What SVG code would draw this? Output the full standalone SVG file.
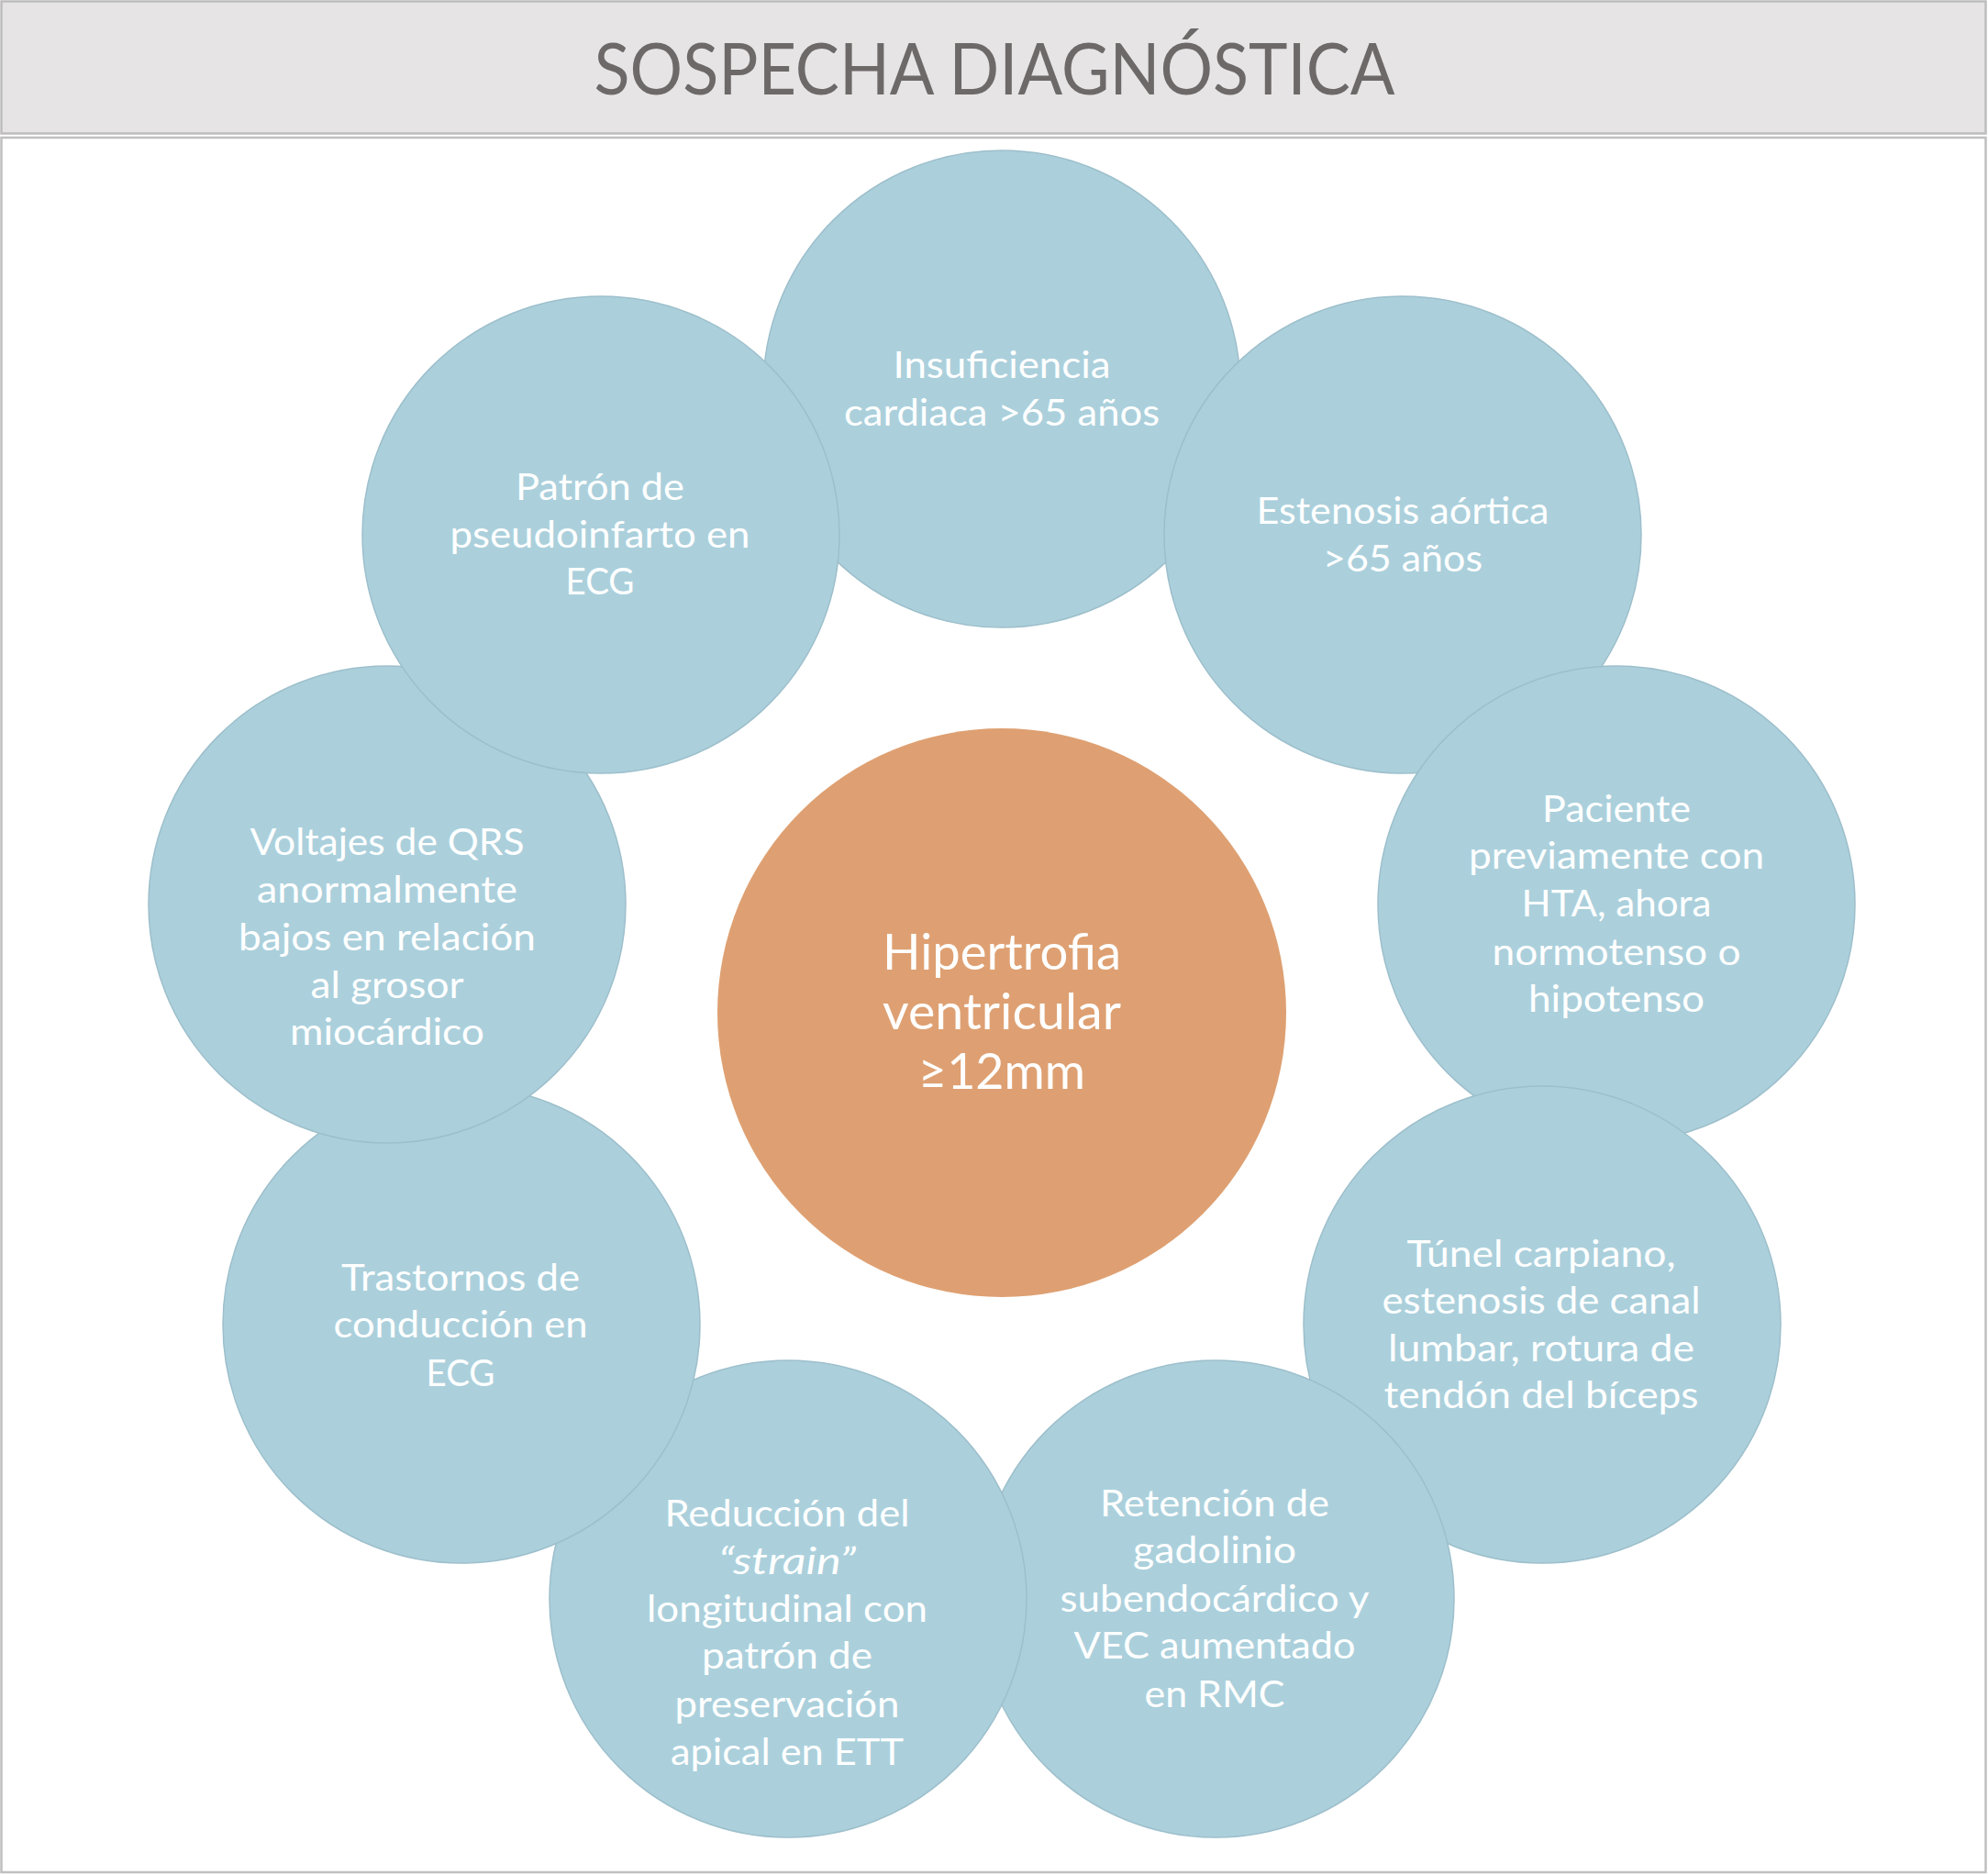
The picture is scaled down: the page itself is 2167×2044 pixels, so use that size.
<svg xmlns="http://www.w3.org/2000/svg" width="2167" height="2044" viewBox="0 0 2167 2044">
<style>
.frame{fill:#FFFFFF;stroke:#BFBFBF;stroke-width:2.5}
.head{fill:#E6E4E5;stroke:#BDBDBD;stroke-width:2.5}
.sat{fill:#ABD0DC;stroke:#9DBFCB;stroke-width:1.5}
.core{fill:#DEA072}
.lbl{font-family:Lato,"Open Sans",sans-serif;font-size:40px;fill:#FFFFFF;text-anchor:middle}
.big{font-size:54px}
.ttl{font-family:Lato,"Open Sans",sans-serif;font-size:77px;fill:#6D6969;text-anchor:middle}
</style>
<rect width="2167" height="2044" fill="#FFFFFF"/>
<g id="header">
<rect class="head" x="1.5" y="1.5" width="2163" height="144"/>
<text class="ttl" x="1084" y="103" textLength="873" lengthAdjust="spacingAndGlyphs">SOSPECHA DIAGNÓSTICA</text>
</g>
<rect class="frame" x="1.5" y="150" width="2163" height="1891"/>
<g id="connectors"/>
<g id="n0">
<circle class="sat" cx="1092" cy="424" r="260"/>
<text class="lbl" x="1092" y="412" textLength="237" lengthAdjust="spacingAndGlyphs">Insuficiencia</text>
<text class="lbl" x="1092" y="464" textLength="344" lengthAdjust="spacingAndGlyphs">cardiaca &gt;65 años</text>
</g>
<g id="n1">
<circle class="sat" cx="1529" cy="583" r="260"/>
<text class="lbl" x="1529" y="571" textLength="319" lengthAdjust="spacingAndGlyphs">Estenosis aórtica</text>
<text class="lbl" x="1529" y="623" textLength="174" lengthAdjust="spacingAndGlyphs">&gt;65 años</text>
</g>
<g id="n2">
<circle class="sat" cx="1762" cy="986" r="260"/>
<text class="lbl" x="1762" y="896" textLength="162" lengthAdjust="spacingAndGlyphs">Paciente</text>
<text class="lbl" x="1762" y="947" textLength="322" lengthAdjust="spacingAndGlyphs">previamente con</text>
<text class="lbl" x="1762" y="999" textLength="207" lengthAdjust="spacingAndGlyphs">HTA, ahora</text>
<text class="lbl" x="1762" y="1052" textLength="271" lengthAdjust="spacingAndGlyphs">normotenso o</text>
<text class="lbl" x="1762" y="1103" textLength="192" lengthAdjust="spacingAndGlyphs">hipotenso</text>
</g>
<g id="n3">
<circle class="sat" cx="1681" cy="1444" r="260"/>
<text class="lbl" x="1680" y="1381" textLength="293" lengthAdjust="spacingAndGlyphs">Túnel carpiano,</text>
<text class="lbl" x="1680" y="1432" textLength="347" lengthAdjust="spacingAndGlyphs">estenosis de canal</text>
<text class="lbl" x="1680" y="1484" textLength="334" lengthAdjust="spacingAndGlyphs">lumbar, rotura de</text>
<text class="lbl" x="1680" y="1535" textLength="343" lengthAdjust="spacingAndGlyphs">tendón del bíceps</text>
</g>
<g id="n4">
<circle class="sat" cx="1325" cy="1743" r="260"/>
<text class="lbl" x="1324" y="1653" textLength="250" lengthAdjust="spacingAndGlyphs">Retención de</text>
<text class="lbl" x="1324" y="1704" textLength="178" lengthAdjust="spacingAndGlyphs">gadolinio</text>
<text class="lbl" x="1324" y="1757" textLength="337" lengthAdjust="spacingAndGlyphs">subendocárdico y</text>
<text class="lbl" x="1324" y="1808" textLength="307" lengthAdjust="spacingAndGlyphs">VEC aumentado</text>
<text class="lbl" x="1324" y="1861" textLength="153" lengthAdjust="spacingAndGlyphs">en RMC</text>
</g>
<g id="n5">
<circle class="sat" cx="859" cy="1743" r="260"/>
<text class="lbl" x="858" y="1664" textLength="267" lengthAdjust="spacingAndGlyphs">Reducción del</text>
<text class="lbl" x="858" y="1716" font-style="italic" textLength="150" lengthAdjust="spacingAndGlyphs">“strain”</text>
<text class="lbl" x="858" y="1768" textLength="306" lengthAdjust="spacingAndGlyphs">longitudinal con</text>
<text class="lbl" x="858" y="1819" textLength="186" lengthAdjust="spacingAndGlyphs">patrón de</text>
<text class="lbl" x="858" y="1872" textLength="245" lengthAdjust="spacingAndGlyphs">preservación</text>
<text class="lbl" x="858" y="1924" textLength="254" lengthAdjust="spacingAndGlyphs">apical en ETT</text>
</g>
<g id="n6">
<circle class="sat" cx="503" cy="1444" r="260"/>
<text class="lbl" x="502" y="1407" textLength="260" lengthAdjust="spacingAndGlyphs">Trastornos de</text>
<text class="lbl" x="502" y="1458" textLength="277" lengthAdjust="spacingAndGlyphs">conducción en</text>
<text class="lbl" x="502" y="1511" textLength="75" lengthAdjust="spacingAndGlyphs">ECG</text>
</g>
<g id="n7">
<circle class="sat" cx="422" cy="986" r="260"/>
<text class="lbl" x="422" y="932" textLength="299" lengthAdjust="spacingAndGlyphs">Voltajes de QRS</text>
<text class="lbl" x="422" y="984" textLength="284" lengthAdjust="spacingAndGlyphs">anormalmente</text>
<text class="lbl" x="422" y="1036" textLength="324" lengthAdjust="spacingAndGlyphs">bajos en relación</text>
<text class="lbl" x="422" y="1088" textLength="167" lengthAdjust="spacingAndGlyphs">al grosor</text>
<text class="lbl" x="422" y="1139" textLength="212" lengthAdjust="spacingAndGlyphs">miocárdico</text>
</g>
<g id="n8">
<circle class="sat" cx="655" cy="583" r="260"/>
<text class="lbl" x="654" y="545" textLength="184" lengthAdjust="spacingAndGlyphs">Patrón de</text>
<text class="lbl" x="654" y="597" textLength="327" lengthAdjust="spacingAndGlyphs">pseudoinfarto en</text>
<text class="lbl" x="654" y="648" textLength="75" lengthAdjust="spacingAndGlyphs">ECG</text>
</g>
<g id="center">
<circle class="core" cx="1092" cy="1104" r="310"/>
<text class="lbl big" x="1092" y="1057" textLength="260" lengthAdjust="spacingAndGlyphs">Hipertrofia</text>
<text class="lbl big" x="1092" y="1122" textLength="260" lengthAdjust="spacingAndGlyphs">ventricular</text>
<text class="lbl big" x="1092" y="1187" textLength="182" lengthAdjust="spacingAndGlyphs">≥12mm</text>
</g>
</svg>
